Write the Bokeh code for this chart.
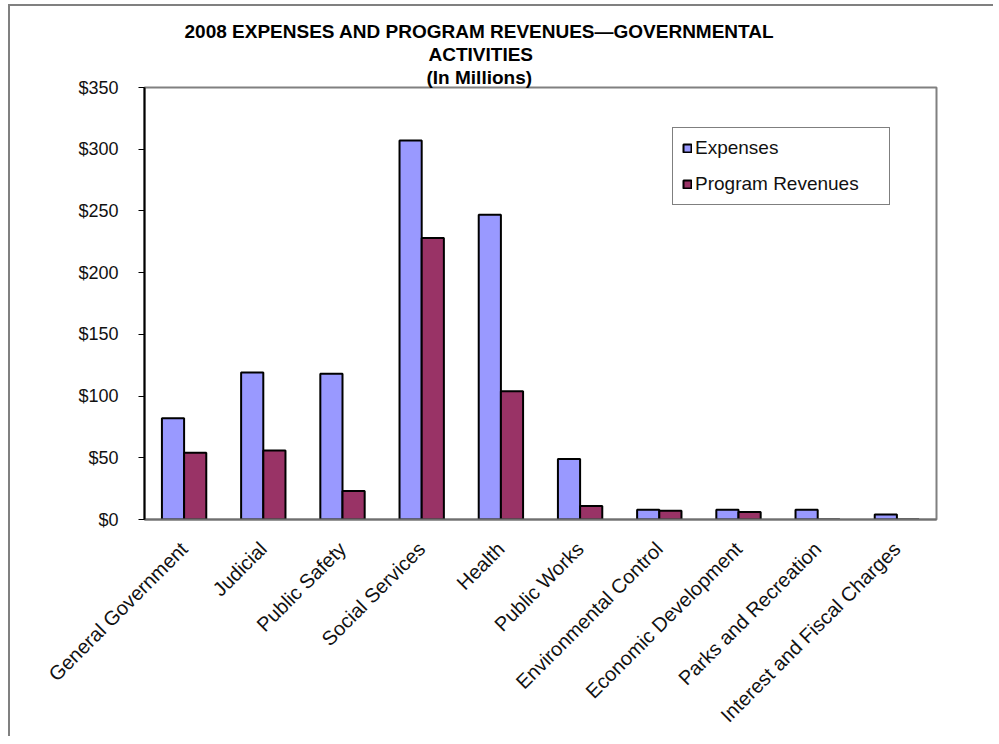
import math
from bokeh.plotting import figure
from bokeh.models import FactorRange, Range1d, Legend, LegendItem, Title, NumeralTickFormatter, FixedTicker, ColumnDataSource
from bokeh.transform import dodge
from bokeh.embed import file_html
from bokeh.resources import INLINE

categories = ["General Government", "Judicial", "Public Safety", "Social Services", "Health",
              "Public Works", "Environmental Control", "Economic Development",
              "Parks and Recreation", "Interest and Fiscal Charges"]
expenses = [82, 119, 118, 307, 247, 49, 8, 8, 8, 4]
program_revenues = [54, 56, 23, 228, 104, 11, 7, 6, 0, 0]
y_ticks = [0, 50, 100, 150, 200, 250, 300, 350]
title_lines = ["2008 EXPENSES AND PROGRAM REVENUES\u2014GOVERNMENTAL", "ACTIVITIES", "(In Millions)"]
title_offsets = [40, 284, 282]

FONT = "Liberation Sans"

src = ColumnDataSource(dict(cat=categories, exp=expenses, rev=program_revenues))

p = figure(x_range=FactorRange(*categories, range_padding=0), y_range=Range1d(0, 350),
           frame_width=792, frame_height=432, width=983, height=728,
           min_border_left=134, min_border_top=81, min_border_right=57, min_border_bottom=215,
           output_backend="svg", toolbar_location=None, tools="")
p.margin = (4, 0, 0, 8)
p.background_fill_color = "white"
p.border_fill_color = "white"
p.outline_line_color = "#808080"
p.outline_line_width = 2
p.xgrid.visible = False
p.ygrid.visible = False

bw = 0.28
r1 = p.vbar(x=dodge("cat", -bw / 2, range=p.x_range), top="exp", width=bw, bottom=0, source=src,
            fill_color="#9999FF", line_color="black", line_width=2)
r2 = p.vbar(x=dodge("cat", bw / 2, range=p.x_range), top="rev", width=bw, bottom=0, source=src,
            fill_color="#993366", line_color="black", line_width=2)

# axes
p.yaxis.ticker = FixedTicker(ticks=y_ticks)
p.yaxis.formatter = NumeralTickFormatter(format="$0")
p.yaxis.major_label_text_font = FONT
p.yaxis.major_label_text_font_size = "18px"
p.yaxis.major_label_text_color = "#111111"
p.yaxis.major_label_standoff = 20
p.yaxis.major_tick_out = 6
p.yaxis.major_tick_in = 0
p.yaxis.minor_tick_line_color = None
p.yaxis.axis_line_color = "black"
p.yaxis.axis_line_width = 2
p.yaxis.major_tick_line_width = 1

p.xaxis.major_label_orientation = math.pi / 4
p.xaxis.major_label_text_font = FONT
p.xaxis.major_label_text_font_size = "20px"
p.xaxis.major_label_text_color = "#111111"
p.xaxis.major_tick_line_color = None
p.xaxis.axis_line_color = "#707070"
p.xaxis.axis_line_width = 2
p.xaxis.major_label_standoff = 20

legend = Legend(items=[LegendItem(label="Expenses", renderers=[r1]),
                       LegendItem(label="Program Revenues", renderers=[r2])],
                location=(528, 314))
legend.label_text_font = FONT
legend.label_text_font_size = "19px"
legend.label_text_color = "#111111"
legend.glyph_width = 10
legend.glyph_height = 10
legend.spacing = 14
legend.padding = 9
legend.margin = 0
legend.label_standoff = 3
legend.label_width = 185
legend.border_line_color = "black"
legend.border_line_width = 1
legend.label_height = 20
p.add_layout(legend, "center")

# titles: later-added titles sit further from the frame
for t, off in reversed(list(zip(title_lines, title_offsets))):
    p.add_layout(Title(text=t, align="left", offset=off, standoff=0, text_font=FONT,
                       text_font_size="19px", text_font_style="bold", text_color="black"),
                 "above")

p.styles = {"border-left": "2px solid #808080", "border-top": "2px solid #808080"}

open("out.html", "w").write(file_html(p, INLINE))
